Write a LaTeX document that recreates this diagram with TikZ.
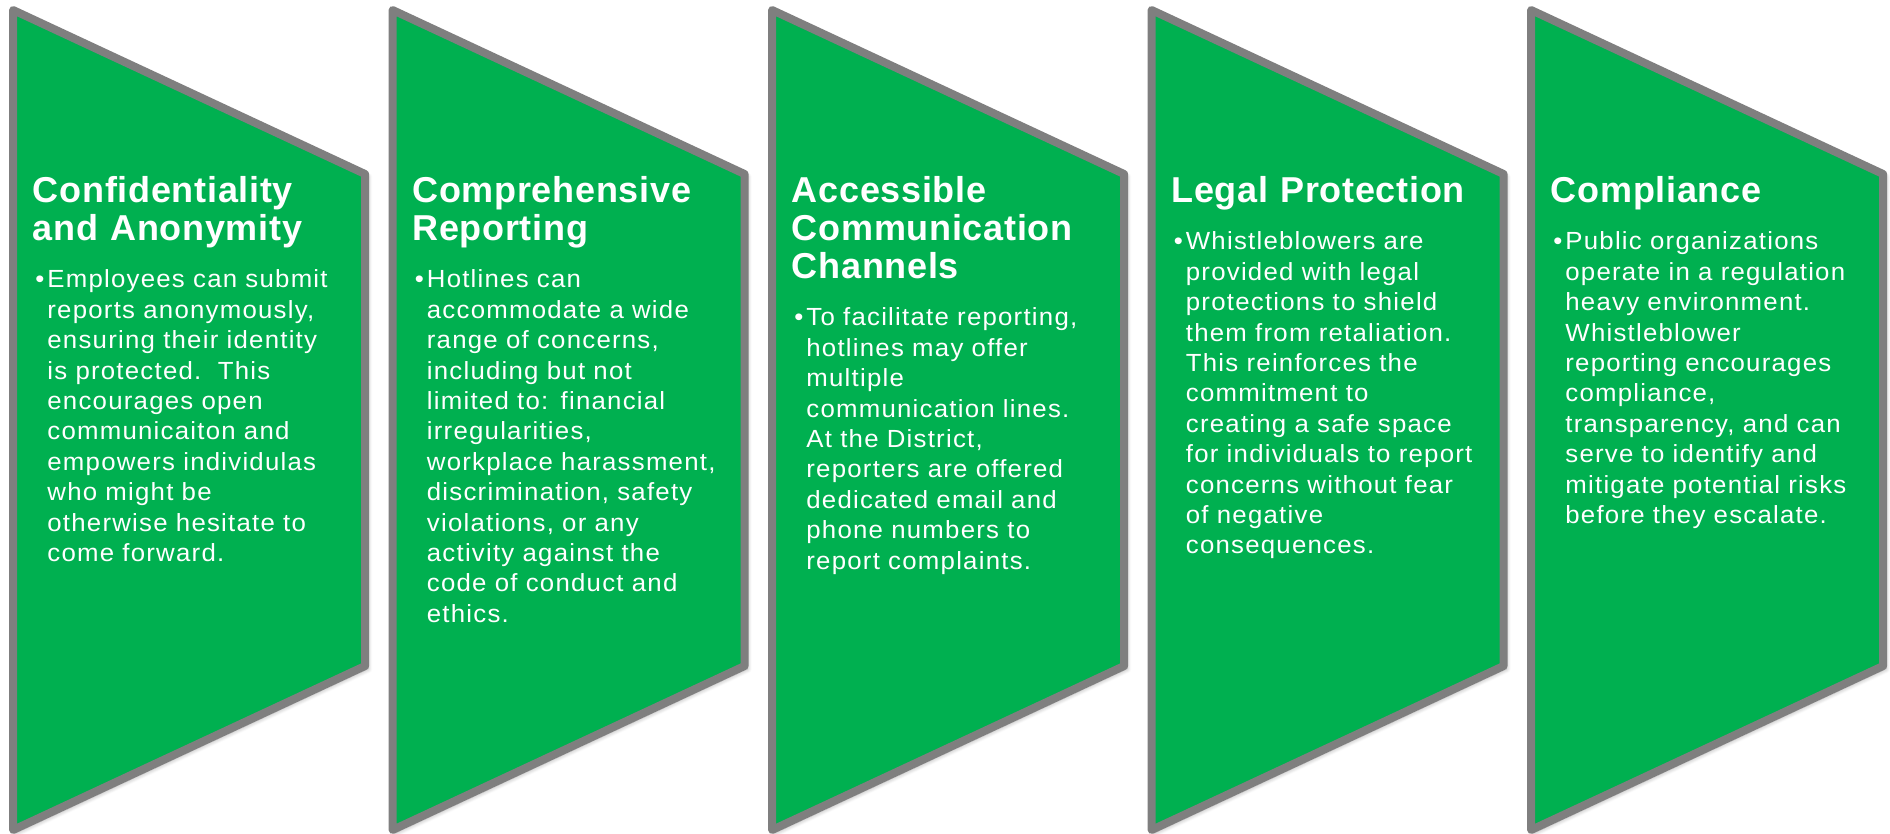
\documentclass[tikz,border=0pt]{standalone}
\usepackage{fontspec}
\setmainfont{Liberation Sans}
\newfontfamily\headfont[LetterSpace=2]{Liberation Sans}
\newfontfamily\pointfont[FakeStretch=1.04, LetterSpace=5]{Liberation Sans}
\usetikzlibrary{shadows.blur}
\definecolor{panelgreen}{RGB}{0,176,80}
\definecolor{panelgray}{RGB}{127,127,127}

\begin{document}
\begin{tikzpicture}[x=0.5pt, y=-0.5pt,
        panel/.style={fill=panelgreen, draw=panelgray, line width=4pt, line join=round,
            blur shadow={shadow xshift=1.5pt, shadow yshift=-1.5pt, shadow blur steps=6, shadow opacity=35}},
        heading/.style={anchor=base west, inner sep=0pt, text width=180pt, align=left, text=white,
            font=\headfont\bfseries\fontsize{18pt}{19pt}\selectfont},
        point/.style={anchor=base west, inner sep=0pt, text width=180pt, align=left, text=white,
            font=\pointfont\fontsize{12.4pt}{15.2pt}\selectfont}]
        \useasboundingbox (0,0) rectangle (1890,834);

        \draw[panel] (13,10) -- (365,174) -- (365,666) -- (13,830) -- cycle;
        \draw[panel] (392.5,10) -- (744.5,174) -- (744.5,666) -- (392.5,830) -- cycle;
        \draw[panel] (772,10) -- (1124,174) -- (1124,666) -- (772,830) -- cycle;
        \draw[panel] (1151.5,10) -- (1503.5,174) -- (1503.5,666) -- (1151.5,830) -- cycle;
        \draw[panel] (1531,10) -- (1883,174) -- (1883,666) -- (1531,830) -- cycle;

        \node[heading] (h1) at (32.5,203) {Confidentiality\\and Anonymity};
        \node[point] (p1) at (47,288) {\llap{\textbullet\hspace{1.5pt}}Employees can submit\\
            reports anonymously,\\ensuring their identity\\is protected.\ \ This\\encourages open\\
            communicaiton and\\empowers individulas\\who might be\\otherwise hesitate to\\come forward.};

        \node[heading] (h2) at (412,203) {Comprehensive\\Reporting};
        \node[point] (p2) at (426.5,288) {\llap{\textbullet\hspace{1.5pt}}Hotlines can\\
            accommodate a wide\\range of concerns,\\including but not\\limited to: financial\\
            irregularities,\\workplace harassment,\\discrimination, safety\\violations, or any\\
            activity against the\\code of conduct and\\ethics.};

        \node[heading] (h3) at (791.5,203) {Accessible\\Communication\\Channels};
        \node[point] (p3) at (806,326) {\llap{\textbullet\hspace{1.5pt}}To facilitate reporting,\\
            hotlines may offer\\multiple\\communication lines.\\At the District,\\
            reporters are offered\\dedicated email and\\phone numbers to\\report complaints.};

        \node[heading] (h4) at (1171,203) {Legal Protection};
        \node[point] (p4) at (1185.5,250) {\llap{\textbullet\hspace{1.5pt}}Whistleblowers are\\
            provided with legal\\protections to shield\\them from retaliation.\\This reinforces the\\
            commitment to\\creating a safe space\\for individuals to report\\concerns without fear\\
            of negative\\consequences.};

        \node[heading] (h5) at (1550.5,203) {Compliance};
        \node[point] (p5) at (1565,250) {\llap{\textbullet\hspace{1.5pt}}Public organizations\\
            operate in a regulation\\heavy environment.\\Whistleblower\\reporting encourages\\
            compliance,\\transparency, and can\\serve to identify and\\mitigate potential risks\\
            before they escalate.};
\end{tikzpicture}
\end{document}
